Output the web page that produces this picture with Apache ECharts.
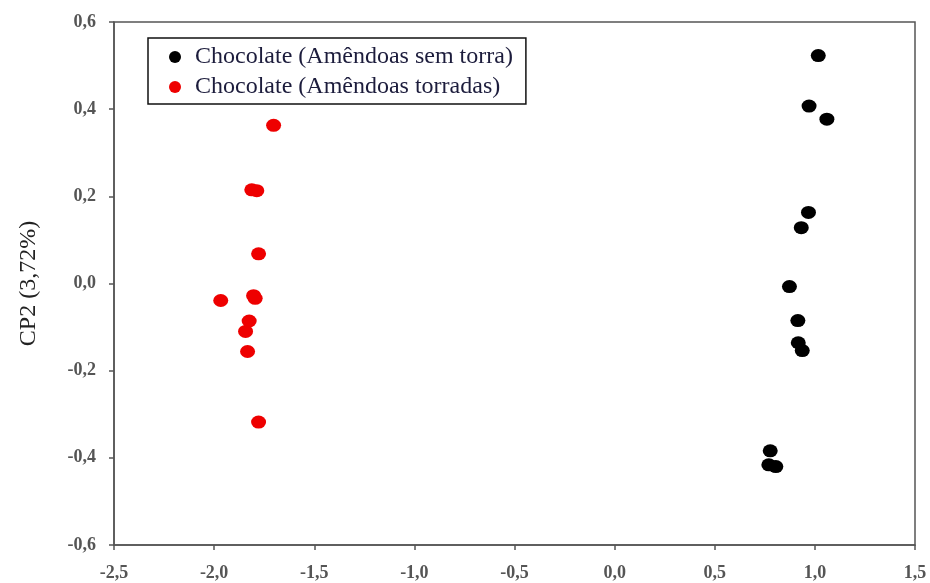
<!DOCTYPE html>
<html>
<head>
<meta charset="utf-8">
<script src="https://cdn.jsdelivr.net/npm/echarts@6/dist/echarts.min.js"></script>
<style>html,body{margin:0;padding:0;background:#fff;}#c{width:930px;height:583px;}</style>
</head>
<body>
<div id="c"></div>
<script>
const seriesNames = ['Chocolate (Amêndoas sem torra)', 'Chocolate (Amêndoas torradas)'];
const semTorraX = [1.017, 0.971, 1.060, 0.968, 0.932, 0.873, 0.915, 0.917, 0.937, 0.777, 0.770, 0.805];
const semTorraY = [0.523, 0.407, 0.377, 0.163, 0.128, -0.007, -0.085, -0.136, -0.154, -0.384, -0.416, -0.420];
const torradasX = [-1.703, -1.812, -1.787, -1.778, -1.967, -1.803, -1.795, -1.825, -1.843, -1.833, -1.778];
const torradasY = [0.363, 0.215, 0.213, 0.068, -0.039, -0.028, -0.034, -0.086, -0.110, -0.156, -0.318];
const yTitle = 'CP2 (3,72%)';

const pair = (xs, ys) => xs.map((x, i) => [x, ys[i]]);
const fmt = v => (Math.abs(v) < 1e-9 ? 0 : v).toFixed(1).replace('.', ',');
const serif = '"Liberation Serif", "DejaVu Serif", serif';

const chart = echarts.init(document.getElementById('c'));
chart.setOption({
  animation: false,
  backgroundColor: '#fff',
  grid: { left: 114, right: 15, top: 22, bottom: 38, show: true, borderColor: '#555', borderWidth: 1.5 },
  legend: {
    orient: 'vertical', left: 148, top: 38,
    data: seriesNames,
    icon: 'circle', itemWidth: 12, itemHeight: 12, itemGap: 6,
    borderColor: '#111', borderWidth: 1.5,
    padding: [7, 13, 5, 21],
    textStyle: { fontFamily: serif, fontSize: 24, color: '#1c1c3c', padding: [0, 0, 0, 9] }
  },
  xAxis: {
    type: 'value', min: -2.5, max: 1.5, interval: 0.5,
    splitLine: { show: false },
    axisLine: { onZero: false, lineStyle: { color: '#555', width: 1.5 } },
    axisTick: { show: true, length: 5, lineStyle: { color: '#555', width: 1.5 } },
    axisLabel: { formatter: fmt, fontFamily: serif, fontSize: 18, fontWeight: 'bold', color: '#555', margin: 19 }
  },
  yAxis: {
    type: 'value', min: -0.6, max: 0.6, interval: 0.2,
    name: yTitle, nameLocation: 'middle', nameGap: 73,
    nameTextStyle: { fontFamily: serif, fontSize: 24, color: '#222' },
    splitLine: { show: false },
    axisLine: { onZero: false, lineStyle: { color: '#555', width: 1.5 } },
    axisTick: { show: true, length: 5, lineStyle: { color: '#555', width: 1.5 } },
    axisLabel: { formatter: fmt, fontFamily: serif, fontSize: 18, fontWeight: 'bold', color: '#555', margin: 18 }
  },
  series: [
    { name: seriesNames[0], type: 'scatter', data: pair(semTorraX, semTorraY),
      symbol: 'circle', symbolSize: [15, 13], itemStyle: { color: '#000', opacity: 1 } },
    { name: seriesNames[1], type: 'scatter', data: pair(torradasX, torradasY),
      symbol: 'circle', symbolSize: [15, 13], itemStyle: { color: '#ee0000', opacity: 1 } }
  ]
});
</script>
</body>
</html>
